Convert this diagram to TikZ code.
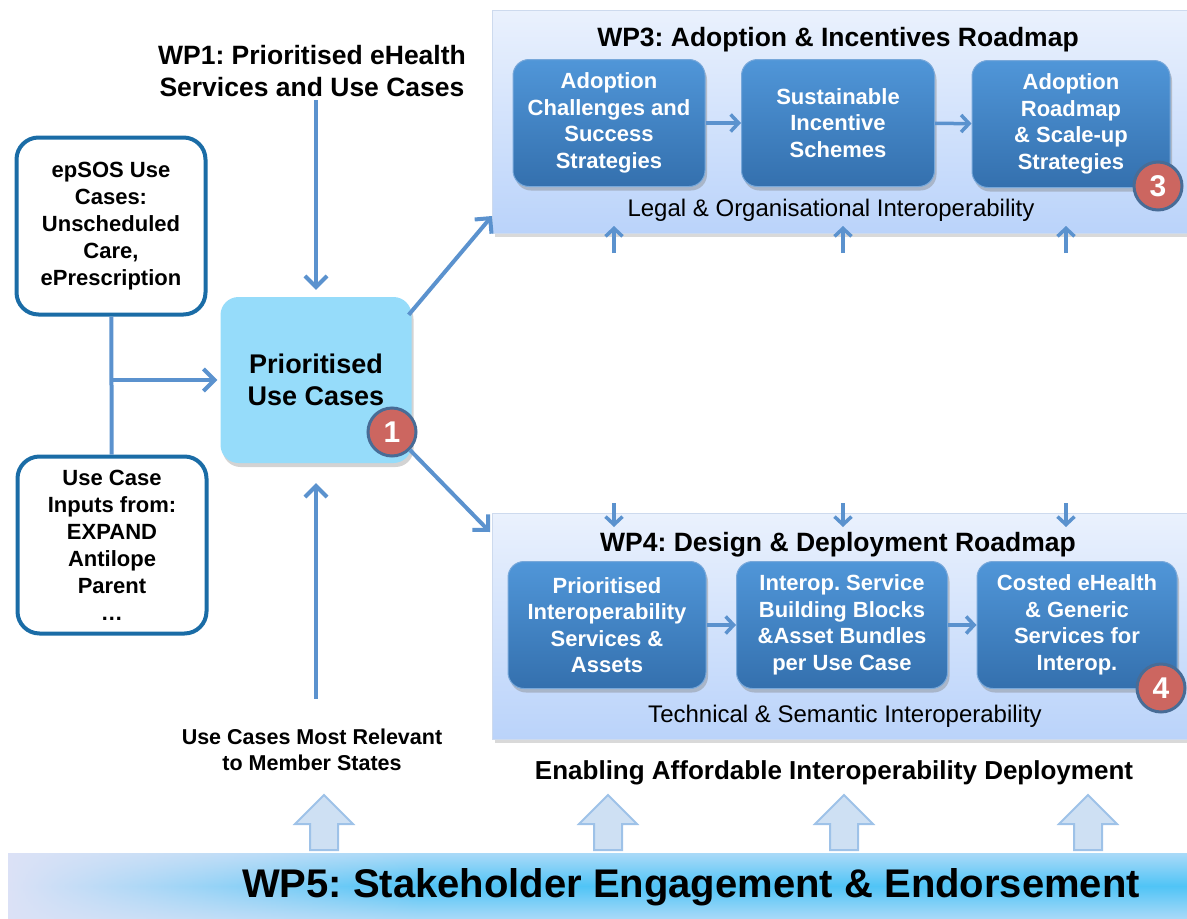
\documentclass[tikz,border=0pt]{standalone}
\usepackage{fontspec}
\setmainfont{Liberation Sans}
\usepackage{tikz}
\usetikzlibrary{calc,arrows.meta,shadows,fadings}
\definecolor{flowblue}{RGB}{91,146,206}
\definecolor{edgeblue}{RGB}{26,108,166}
\definecolor{usecasefill}{RGB}{150,220,250}
\definecolor{taskhi}{RGB}{80,150,216}
\definecolor{tasklo}{RGB}{52,112,174}
\definecolor{taskedge}{RGB}{120,168,218}
\definecolor{panelhi}{RGB}{234,241,253}
\definecolor{panello}{RGB}{186,211,250}
\definecolor{paneledge}{RGB}{205,218,238}
\definecolor{badgered}{RGB}{204,102,96}
\definecolor{badgeedge}{RGB}{72,108,150}
\definecolor{bandleft}{RGB}{220,226,246}
\definecolor{bandtop}{RGB}{170,218,248}
\definecolor{bandmid}{RGB}{80,196,246}
\definecolor{hollowfill}{RGB}{206,224,243}
\definecolor{hollowedge}{RGB}{158,194,232}
\newcommand{\fsize}[2]{\fontsize{#1pt}{#2pt}\selectfont}
\tikzfading[name=fadeleft,left color=transparent!0,right color=transparent!100]
\frenchspacing

\begin{document}
\begin{tikzpicture}[x=1pt,y=-1pt]
    \tikzstyle{flow}=[draw=flowblue,line width=4pt,-{Straight Barb[length=11pt,width=22pt]}]
    \tikzstyle{tick}=[draw=flowblue,line width=3.5pt,-{Straight Barb[length=8pt,width=17pt]}]
    \tikzstyle{source box}=[draw=edgeblue,line width=4pt,fill=white,rounded corners=22pt,minimum width=189pt,minimum height=177pt,align=center,font=\bfseries\fsize{22}{27}]
    \tikzstyle{use case}=[fill=usecasefill,rounded corners=18pt,minimum width=191pt,minimum height=166pt,align=center,font=\bfseries\fsize{27}{32},drop shadow={shadow xshift=2pt,shadow yshift=-4pt,opacity=.35}]
    \tikzstyle{panel}=[draw=paneledge,line width=1pt,top color=panelhi,bottom color=panello,minimum width=720pt,anchor=north west,drop shadow={shadow xshift=2pt,shadow yshift=-3pt,opacity=.3}]
    \tikzstyle{task box}=[draw=taskedge,line width=1pt,top color=taskhi,bottom color=tasklo,rounded corners=16pt,minimum height=127pt,align=center,text=white,font=\bfseries\fsize{22}{26.5},drop shadow={shadow xshift=2pt,shadow yshift=-4pt,opacity=.4}]
    \tikzstyle{badge}=[circle,fill=badgered,draw=badgeedge,line width=3pt,minimum size=48pt,inner sep=0pt,text=white,font=\bfseries\fsize{30}{30}]
    \tikzstyle{hollow}=[fill=hollowfill,draw=hollowedge,line width=2pt]

    \useasboundingbox (0,0) rectangle (1187,919);

    % WP5 band
    \shade[top color=bandtop,bottom color=bandtop,middle color=bandmid] (8,853) rectangle (1187,919);
    \fill[bandleft,path fading=fadeleft] (8,853) rectangle (420,919);
    \node[font=\bfseries\fsize{40}{44}] (wp5) at (691,887) {WP5: Stakeholder Engagement \& Endorsement};
    \foreach \x in {324,608,844,1088}
        \draw[hollow] (\x-14,850) -- ++(0,-26) -- ++(-15,0) -- (\x,795) -- (\x+29,824) -- ++(-15,0) -- (\x+14,850) -- cycle;

    % WP3 and WP4 panels
    \node[panel,minimum height=223pt] (wp3) at (492,10) {};
    \node[panel,minimum height=226pt] (wp4) at (492,513) {};

    \node[font=\bfseries\fsize{26.5}{30}] (wp3t) at (838,40) {WP3: Adoption \& Incentives Roadmap};
    \node[task box,minimum width=192pt] (adopt) at (609,123) {Adoption\\Challenges and\\Success\\Strategies};
    \node[task box,minimum width=193pt] (incent) at (838,123) {Sustainable\\Incentive\\Schemes};
    \node[task box,minimum width=198pt] (scale) at (1071,124) {Adoption\\Roadmap\\\& Scale-up\\Strategies};
    \node[font=\fsize{24}{27}] (legal) at (831,210) {Legal \& Organisational Interoperability};
    \node[badge] (b3) at (1158,186) {3};
    \draw[tick] (adopt) -- (incent);
    \draw[tick] (incent) -- (scale);

    \node[font=\bfseries\fsize{26.5}{30}] (wp4t) at (838,545) {WP4: Design \& Deployment Roadmap};
    \node[task box,minimum width=198pt] (assets) at (607,625) {Prioritised\\Interoperability\\Services \&\\Assets};
    \node[task box,minimum width=211pt] (blocks) at (842,625) {Interop. Service\\Building Blocks\\\&Asset Bundles\\per Use Case};
    \node[task box,minimum width=200pt] (costed) at (1077,625) {Costed eHealth\\\& Generic\\Services for\\Interop.};
    \node[font=\fsize{24}{27}] (tech) at (845,716) {Technical \& Semantic Interoperability};
    \node[badge] (b4) at (1161,688) {4};
    \draw[tick] (assets) -- (blocks);
    \draw[tick] (blocks) -- (costed);

    % links into the panels
    \foreach \x in {614,843,1066} {
        \draw[tick] ($(\x,0 |- wp3.south)+(0,19)$) -- ++(0,-27);
        \draw[tick] ($(\x,0 |- wp4.north)+(0,-10)$) -- ++(0,24);
    }

    % use case inputs
    \node[source box] (epsos) at (111,226) {epSOS Use\\Cases:\\Unscheduled\\Care,\\ePrescription};
    \node[source box] (inputs) at (112,545) {Use Case\\Inputs from:\\EXPAND\\Antilope\\Parent\\…};
    \node[use case] (puc) at (316,380) {Prioritised\\Use Cases};
    \node[font=\bfseries\fsize{26.5}{32},align=center] (wp1) at (312,71) {WP1: Prioritised eHealth\\Services and Use Cases};
    \node[font=\bfseries\fsize{21.5}{26},align=center] (relevant) at (312,750) {Use Cases Most Relevant\\to Member States};
    \node[font=\bfseries\fsize{26}{30}] (enabling) at (834,773) {Enabling Affordable Interoperability Deployment};

    \draw[draw=flowblue,line width=4pt] (epsos) -- (inputs);
    \coordinate (junc) at (epsos.south |- puc.west);
    \draw[flow,shorten >=3pt] (junc) -- (puc.west);
    \draw[flow,shorten >=7pt] (puc.north |- wp1.south) -- (puc.north);
    \draw[flow,shorten >=20pt] ($(relevant.north -| puc.south)+(0,-27)$) -- (puc.south);
    \draw[flow] ($(puc.north east)+(-3,18)$) -- ($(wp3.south west)+(0,-18)$);
    \node[badge] (b1) at (392,432) {1};
    \draw[flow] (b1.south east) -- ($(wp4.north west)+(-2,19)$);
\end{tikzpicture}
\end{document}
